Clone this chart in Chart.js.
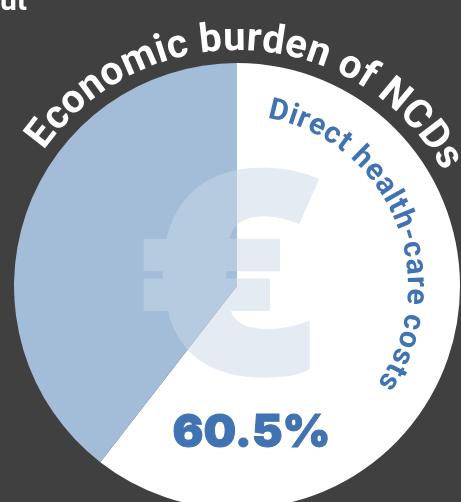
<!DOCTYPE html>
<html>
<head>
<meta charset="utf-8">
<style>
html,body{margin:0;padding:0;background:#404040;overflow:hidden}
#wrap{position:relative;width:461px;height:502px}
</style>
<script src="https://cdn.jsdelivr.net/npm/chart.js@4"></script>
</head>
<body>
<div id="wrap"><canvas id="c" width="461" height="502"></canvas></div>
<script>
const categories = ['Direct health-care costs', 'Other costs'];
const shares = [60.5, 39.5];
const sliceColors = ['#ffffff', '#a3bcd8'];
const title = 'Economic burden of NCDs';
const valueLabel = shares[0].toFixed(1) + '%';
const BLUE = '#4173b2';

// Places a string along a circle, one glyph at a time, keeping kerning from prefix widths.
function arcText(ctx, cx, cy, text, font, color, radius, startDeg, endDeg) {
  ctx.save();
  ctx.font = font;
  ctx.fillStyle = color;
  ctx.textAlign = 'center';
  ctx.textBaseline = 'alphabetic';
  const total = ctx.measureText(text).width;
  const span = (endDeg - startDeg) * Math.PI / 180;
  const start = startDeg * Math.PI / 180;
  for (let i = 0; i < text.length; i++) {
    const before = ctx.measureText(text.slice(0, i)).width;
    const w = ctx.measureText(text[i]).width;
    const a = start + span * (before + w / 2) / total;
    ctx.save();
    ctx.translate(cx + Math.sin(a) * radius, cy - Math.cos(a) * radius);
    ctx.rotate(a);
    ctx.fillText(text[i], 0, 0);
    ctx.restore();
  }
  ctx.restore();
}

// Scales a glyph run so its ink fills the given box; an outline thickens the strokes.
function fitText(ctx, text, font, color, x0, y0, x1, y1, weight) {
  const layer = document.createElement('canvas');
  layer.width = ctx.canvas.width;
  layer.height = ctx.canvas.height;
  const g = layer.getContext('2d');
  g.font = font;
  g.textAlign = 'left';
  g.textBaseline = 'alphabetic';
  const m = g.measureText(text);
  const w = m.actualBoundingBoxRight + m.actualBoundingBoxLeft;
  const h = m.actualBoundingBoxAscent + m.actualBoundingBoxDescent;
  const sx = (x1 - x0 - weight) / w, sy = (y1 - y0 - weight) / h;
  g.translate(x0 + weight / 2, y0 + weight / 2);
  g.scale(sx, sy);
  g.fillStyle = color;
  g.strokeStyle = color;
  g.lineWidth = weight / sx;
  g.lineJoin = 'miter';
  g.fillText(text, m.actualBoundingBoxLeft, m.actualBoundingBoxAscent);
  if (weight > 0) g.strokeText(text, m.actualBoundingBoxLeft, m.actualBoundingBoxAscent);
  ctx.drawImage(layer, 0, 0);
}

const annotations = {
  id: 'annotations',
  afterDatasetsDraw(chart) {
    const { ctx } = chart;
    const arc = chart.getDatasetMeta(0).data[0];
    const cx = arc.x, cy = arc.y;
    ctx.save();
    ctx.globalAlpha = 0.5;
    fitText(ctx, '€', '800 200px "Open Sans"', 'rgb(202,216,233)', 143, 167, 320, 378, 5);
    ctx.restore();
    arcText(ctx, cx, cy, title, '700 40px Roboto', '#ffffff', 236, -55, 61);
    arcText(ctx, cx, cy, categories[0], '700 30px Roboto', BLUE, 171, 10, 125);
    fitText(ctx, valueLabel, '900 48px Inter', BLUE, 173, 412, 328, 448, 1);
    ctx.save();
    ctx.font = '700 30px Roboto';
    ctx.fillStyle = '#ffffff';
    ctx.textBaseline = 'alphabetic';
    ctx.fillText('ut', 0, 10);
    ctx.restore();
  }
};

new Chart(document.getElementById('c'), {
  type: 'pie',
  data: {
    labels: categories,
    datasets: [{ data: shares, backgroundColor: sliceColors, borderWidth: 0, clip: false }]
  },
  options: {
    responsive: false,
    animation: false,
    radius: 223,
    layout: { padding: { left: 13, top: 70, right: 0, bottom: 0 } },
    plugins: { legend: { display: false }, tooltip: { enabled: false } }
  },
  plugins: [annotations]
});
</script>
</body>
</html>
